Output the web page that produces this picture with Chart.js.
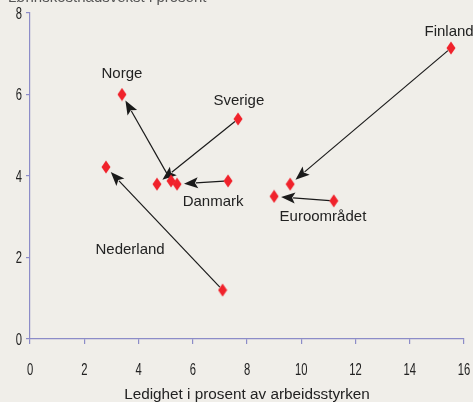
<!DOCTYPE html>
<html>
<head>
<meta charset="utf-8">
<script src="https://cdn.jsdelivr.net/npm/chart.js@4.4.0/dist/chart.umd.min.js"></script>
<style>
  html, body { margin: 0; padding: 0; background: #f0eee9; }
  #wrap { width: 473px; height: 402px; position: relative; }
</style>
</head>
<body>
<div id="wrap"><canvas id="c" width="473" height="402"></canvas></div>
<script>
// ---- data ----
const countries = ['Norge', 'Sverige', 'Danmark', 'Finland', 'Nederland', 'Euroområdet'];
// start of each arrow (unemployment %, wage growth %)
const fromX = [5.2, 7.67, 7.3, 15.52, 7.1, 11.2];
const fromY = [3.88, 5.4, 3.88, 7.14, 1.2, 3.39];
// end of each arrow
const toX = [3.39, 4.68, 5.42, 9.59, 2.8, 9.0];
const toY = [6.0, 3.8, 3.8, 3.8, 4.22, 3.5];
// label anchors (data units)
const labelX = [3.39, 7.7, 6.75, 15.45, 3.69, 10.8];
const labelY = [6.5, 5.84, 3.36, 7.53, 2.18, 2.99];
const xTicks = [0, 2, 4, 6, 8, 10, 12, 14, 16];
const yTicks = [0, 2, 4, 6, 8];
const xTitle = 'Ledighet i prosent av arbeidsstyrken';
const yTitle = 'Lønnskostnadsvekst i prosent';

// diamond marker
const marker = document.createElement('canvas');
marker.width = 10; marker.height = 14;
(function () {
  const g = marker.getContext('2d');
  g.fillStyle = '#f0222b';
  g.beginPath();
  g.moveTo(5, 0.5); g.lineTo(9.5, 7); g.lineTo(5, 13.5); g.lineTo(0.5, 7);
  g.closePath(); g.fill();
})();

const points = [];
for (let i = 0; i < countries.length; i++) {
  points.push({ x: fromX[i], y: fromY[i] });
  points.push({ x: toX[i], y: toY[i] });
}

const axisColor = '#8c8cc8';
const tickFont = '17px "Liberation Sans", Arial, sans-serif';
const squeeze = 0.66;

// condensed tick labels, taken from the scales' own ticks
const tickLabelPlugin = {
  id: 'narrowTicks',
  afterDraw(chart) {
    const { ctx, scales: { x, y } } = chart;
    ctx.save();
    ctx.fillStyle = '#222';
    ctx.font = tickFont;
    ctx.textAlign = 'center';
    ctx.textBaseline = 'alphabetic';
    x.ticks.forEach((t, i) => {
      const px = x.getPixelForTick(i);
      ctx.save();
      ctx.translate(px, x.top + 36);
      ctx.scale(squeeze, 1);
      ctx.fillText(String(t.value), 0, 0);
      ctx.restore();
    });
    ctx.textAlign = 'right';
    ctx.textBaseline = 'middle';
    y.ticks.forEach((t, i) => {
      const py = y.getPixelForTick(i);
      ctx.save();
      ctx.translate(y.right - 8, py + 1);
      ctx.scale(squeeze, 1);
      ctx.fillText(String(t.value), 0, 0);
      ctx.restore();
    });
    ctx.restore();
  }
};

const arrowPlugin = {
  id: 'arrows',
  beforeDatasetsDraw(chart) {
    const { ctx, scales: { x, y } } = chart;
    ctx.save();
    ctx.strokeStyle = '#1a1a1a';
    ctx.fillStyle = '#1a1a1a';
    ctx.lineWidth = 1.2;
    for (let i = 0; i < countries.length; i++) {
      const x1 = x.getPixelForValue(fromX[i]), y1 = y.getPixelForValue(fromY[i]);
      const x2 = x.getPixelForValue(toX[i]), y2 = y.getPixelForValue(toY[i]);
      const dx = x2 - x1, dy = y2 - y1;
      const len = Math.hypot(dx, dy);
      const ux = dx / len, uy = dy / len;
      const tipX = x2 - ux * 7, tipY = y2 - uy * 7;
      const startX = x1 + ux * 4, startY = y1 + uy * 4;
      const headLen = 14, headW = 5.5;
      const bx = tipX - ux * headLen, by = tipY - uy * headLen;
      ctx.beginPath();
      ctx.moveTo(startX, startY);
      ctx.lineTo(bx + ux * 2, by + uy * 2);
      ctx.stroke();
      ctx.beginPath();
      ctx.moveTo(tipX, tipY);
      ctx.lineTo(bx - uy * headW, by + ux * headW);
      ctx.lineTo(bx + ux * 3, by + uy * 3);
      ctx.lineTo(bx + uy * headW, by - ux * headW);
      ctx.closePath();
      ctx.fill();
    }
    ctx.restore();
  },
  afterDatasetsDraw(chart) {
    const { ctx, scales: { x, y } } = chart;
    ctx.save();
    ctx.fillStyle = '#222';
    ctx.font = '15px "Liberation Sans", Arial, sans-serif';
    ctx.textAlign = 'center';
    ctx.textBaseline = 'middle';
    for (let i = 0; i < countries.length; i++) {
      ctx.fillText(countries[i], x.getPixelForValue(labelX[i]), y.getPixelForValue(labelY[i]));
    }
    ctx.textAlign = 'left';
    ctx.textBaseline = 'alphabetic';
    ctx.fillStyle = '#555';
    ctx.fillText(yTitle, 8, 2);
    ctx.restore();
  }
};

new Chart(document.getElementById('c'), {
  type: 'scatter',
  data: {
    datasets: [{
      data: points,
      pointStyle: marker,
      pointRadius: 6,
      pointHoverRadius: 6,
      showLine: false
    }]
  },
  options: {
    responsive: false,
    animation: false,
    events: [],
    layout: { padding: { top: 13, right: 9, left: 0, bottom: 0 } },
    plugins: { legend: { display: false }, tooltip: { enabled: false } },
    scales: {
      x: {
        type: 'linear', min: 0, max: 16,
        afterFit(s) { s.height = 63; },
        afterBuildTicks(s) { s.ticks = xTicks.map(v => ({ value: v })); },
        border: { color: axisColor, width: 1.2 },
        grid: { drawOnChartArea: false, drawTicks: true, tickLength: 5, color: axisColor, lineWidth: 1.2 },
        ticks: { display: false },
        title: { display: true, text: xTitle, color: '#222', padding: { top: 0, bottom: -2 }, font: { family: '"Liberation Sans", Arial, sans-serif', size: 15.3 } }
      },
      y: {
        type: 'linear', min: 0, max: 8,
        afterFit(s) { s.width = 30; },
        afterBuildTicks(s) { s.ticks = yTicks.map(v => ({ value: v })); },
        border: { color: axisColor, width: 1.2 },
        grid: { drawOnChartArea: false, drawTicks: true, tickLength: 4, color: axisColor, lineWidth: 1.2 },
        ticks: { display: false }
      }
    }
  },
  plugins: [arrowPlugin, tickLabelPlugin]
});
</script>
</body>
</html>
